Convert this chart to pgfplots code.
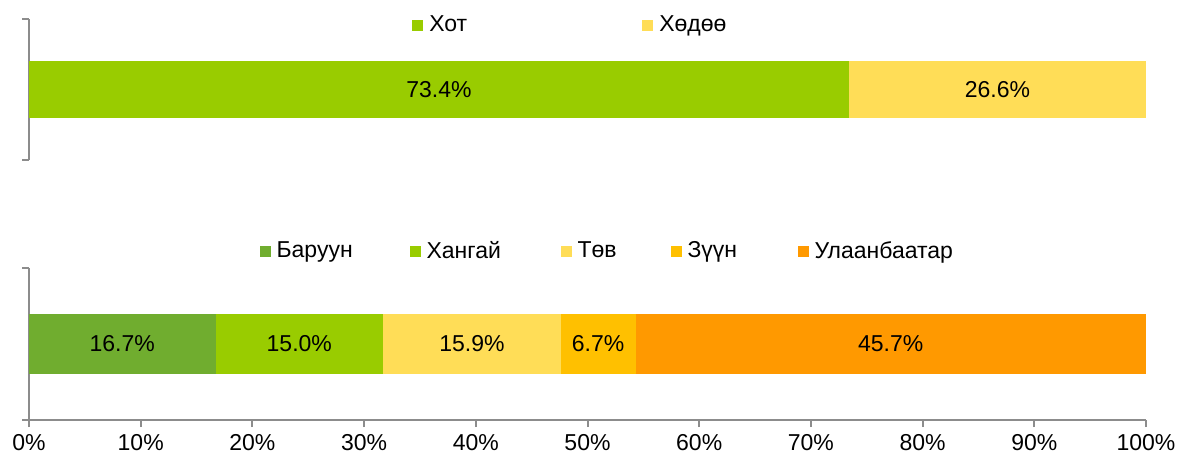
\documentclass[border=0pt]{standalone}
\usepackage{fontspec}
\setmainfont{Liberation Sans}
\usepackage{pgfplots}
\pgfplotsset{compat=1.18}
\definecolor{cWest}{HTML}{70AD2F}
\definecolor{cGreen}{HTML}{99CC00}
\definecolor{cYellow}{HTML}{FFDD57}
\definecolor{cGold}{HTML}{FFC000}
\definecolor{cOrange}{HTML}{FF9900}
\definecolor{axgray}{HTML}{8C8C8C}
\pgfplotsset{
  base/.style={
    scale only axis, width=558.5pt,
    xmin=0, xmax=100, ymin=0, ymax=2,
    xbar stacked,
    axis line style={draw=axgray, line width=1pt, -},
    every tick/.style={draw=axgray, line width=1pt},
    tick align=outside, major tick length=3.5pt,
    ytick={0,2}, yticklabels={},
    legend columns=-1,
    legend style={draw=none, fill=none, inner sep=0pt, column sep=0pt,
      nodes={inner ysep=1pt, inner xsep=3pt, anchor=west}},
    legend image code/.code={\fill[##1, draw=none] (0pt,-2.75pt) rectangle (5.5pt,2.75pt);},
  },
  lab/.style={
    scale only axis, width=558.5pt,
    xmin=0, xmax=100, ymin=0, ymax=2,
    hide axis,
  },
}
\begin{document}
\begin{tikzpicture}[font=\fontsize{11.5pt}{13pt}\selectfont]
\path[use as bounding box] (-14.5pt,-18.5pt) rectangle (574pt,210pt);
% top axis
\begin{axis}[base, at={(0,130pt)}, anchor=south west, height=70.5pt,
  bar width=28.5pt,
  axis x line=none, axis y line*=left,
  legend style={at={(axis description cs:0.4865,0.955)}, anchor=center}]
\addplot[fill=cGreen, draw=none] coordinates {(73.4,1)};
\addplot[fill=cYellow, draw=none] coordinates {(26.6,1)};
\legend{\makebox[103.5pt][l]{Хот}, Хөдөө}
\end{axis}
\begin{axis}[lab, at={(0,130pt)}, anchor=south west, height=70.5pt]
\addplot[draw=none, mark=none, nodes near coords, point meta=explicit symbolic,
  every node near coord/.style={anchor=center, text=black}]
  coordinates {(36.7,1) [73.4\%] (86.7,1) [26.6\%]};
\end{axis}
% bottom axis
\begin{axis}[base, at={(0,0)}, anchor=south west, height=76pt,
  bar width=30pt,
  axis x line*=bottom, axis y line*=left,
  xtick={0,10,...,100},
  xticklabel={\pgfmathprintnumber[assume math mode=true]{\tick}\%},
  x tick label style={text=black},
  legend style={at={(axis description cs:0.5195,1.11)}, anchor=center}]
\addplot[fill=cWest, draw=none] coordinates {(16.7,1)};
\addplot[fill=cGreen, draw=none] coordinates {(15.0,1)};
\addplot[fill=cYellow, draw=none] coordinates {(15.9,1)};
\addplot[fill=cGold, draw=none] coordinates {(6.7,1)};
\addplot[fill=cOrange, draw=none] coordinates {(45.7,1)};
\legend{\makebox[63.5pt][l]{Баруун}, \makebox[64pt][l]{Хангай}, \makebox[43.5pt][l]{Төв}, \makebox[52pt][l]{Зүүн}, Улаанбаатар}
\end{axis}
\begin{axis}[lab, at={(0,0)}, anchor=south west, height=76pt]
\addplot[draw=none, mark=none, nodes near coords, point meta=explicit symbolic,
  every node near coord/.style={anchor=center, text=black}]
  coordinates {(8.35,1) [16.7\%] (24.2,1) [15.0\%] (39.65,1) [15.9\%] (50.95,1) [6.7\%] (77.15,1) [45.7\%]};
\end{axis}
\end{tikzpicture}
\end{document}
